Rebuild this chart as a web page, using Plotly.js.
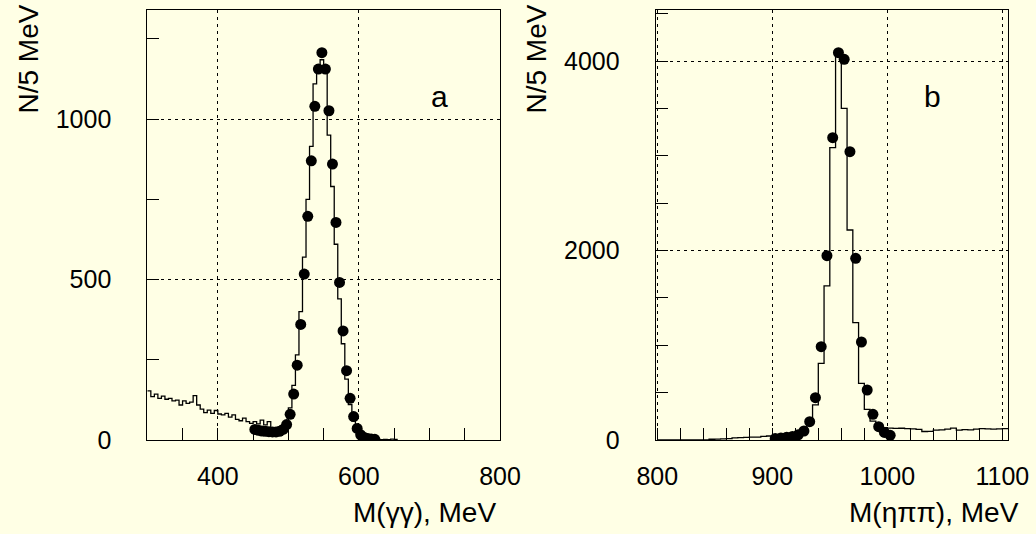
<!DOCTYPE html>
<html>
<head>
<meta charset="utf-8">
<script src="https://cdn.plot.ly/plotly-3.0.1.min.js"></script>
<style>html,body{margin:0;padding:0;background:#FFFFE5;}#chart{width:1036px;height:534px;}</style>
</head>
<body>
<div id="chart"></div>
<script>
// ---- Panel a: M(gamma gamma) ----
const histA_start = 300;      // first bin edge, MeV
const histA_width = 5;        // bin width, MeV
const histA_counts = [153,135,143,130,137,127,130,122,124,109,122,114,118,138,109,96,85,93,83,92,81,78,83,71,78,64,60,68,57,52,57,50,62,47,57,36,
  30,30,38,55,100,170,265,400,570,750,915,1110,1170,1185,1160,950,790,610,440,300,190,110,60,28,13,6,4,3,2,2,1,2,1,3,2];
const ptsA_mass = [452.5,457.5,462.5,467.5,472.5,477.5,482.5,487.5,492.5,497.5,502.5,507.5,512.5,517.5,522.5,527.5,532.5,537.5,542.5,547.5,
  552.5,557.5,562.5,567.5,572.5,577.5,582.5,587.5,592.5,597.5,602.5,607.5,612.5,617.5,622.5];
const ptsA_counts = [33,30,28,27,26,25,25,27,33,48,80,143,233,360,517,697,870,1040,1156,1207,1156,1026,860,678,491,340,216,130,73,36,16,8,5,3,2];

// ---- Panel b: M(eta pi pi) ----
const histB_start = 800;
const histB_width = 5;
const histB_counts = [0,0,0,0,0,0,0,0,2,
  8,10,12,15,22,25,28,30,30,38,42,
  45,50,60,70,90,120,180,370,810,1627,3088,4080,3503,2218,1239,599,324,200,140,130,
  125,122,124,120,118,112,90,92,105,108,115,125,105,110,108,115,120,118,115,118,120];
const ptsB_mass = [902.5,907.5,912.5,917.5,922.5,927.5,932.5,937.5,942.5,947.5,952.5,957.5,962.5,967.5,972.5,977.5,982.5,987.5,992.5,997.5,1002.5];
const ptsB_counts = [15,22,30,38,55,95,194,447,986,1947,3193,4091,4021,3046,1919,1035,528,271,141,80,50];

// tick labels
const xA_ticks = [400,600,800];
const yA_ticks = [0,500,1000];
const xB_ticks = [800,900,1000,1100];
const yB_ticks = [0,2000,4000];

function stepXY(start, width, counts){
  const x = [], y = [];
  counts.forEach((c,i)=>{ x.push(start + i*width); y.push(c); });
  x.push(start + counts.length*width); y.push(counts[counts.length-1]);
  return {x, y};
}
function range(a,b,s){ const r=[]; for(let v=a; v<=b+1e-9; v+=s) r.push(v); return r; }

const hA = stepXY(histA_start, histA_width, histA_counts);
const hB = stepXY(histB_start, histB_width, histB_counts);

const FONT = 'Liberation Sans, Arial, Helvetica, sans-serif';
const BG = '#FFFFE5';

const traces = [
  {x:hA.x, y:hA.y, xaxis:'x', yaxis:'y', mode:'lines', line:{shape:'hv', color:'#000', width:1.3}, hoverinfo:'skip'},
  {x:ptsA_mass, y:ptsA_counts, xaxis:'x', yaxis:'y', mode:'markers', marker:{color:'#000', size:11}},
  {x:hB.x, y:hB.y, xaxis:'x2', yaxis:'y2', mode:'lines', line:{shape:'hv', color:'#000', width:1.3}, hoverinfo:'skip'},
  {x:ptsB_mass, y:ptsB_counts, xaxis:'x2', yaxis:'y2', mode:'markers', marker:{color:'#000', size:11}}
];

const W = 1036, H = 534;
const px = v => v / W, py = v => 1 - v / H;

function axisCommon(){
  return {
    showline:true, mirror:true, linecolor:'#000', linewidth:1,
    ticks:'inside', ticklen:12, tickcolor:'#000', tickwidth:1,
    showgrid:true, gridcolor:'#000', gridwidth:1, griddash:'3px,4px',
    zeroline:false, tickfont:{family:FONT, size:25, color:'#000'},
    tickmode:'array'
  };
}

const layout = {
  width:W, height:H, showlegend:false,
  paper_bgcolor:BG, plot_bgcolor:BG,
  margin:{l:0, r:0, t:0, b:0},
  xaxis: Object.assign(axisCommon(), {domain:[px(147.3), px(500)], range:[300,800], anchor:'y',
    tickvals:xA_ticks, ticktext:xA_ticks.map(String), ticklabelstandoff:14,
    minor:{tickvals:range(350,750,50), ticks:'inside', ticklen:12, tickcolor:'#000', showgrid:false}}),
  yaxis: Object.assign(axisCommon(), {domain:[py(440), py(10)], range:[0,1340], anchor:'x',
    tickvals:yA_ticks, ticktext:yA_ticks.map(String), ticklabelstandoff:30,
    minor:{tickvals:[250,750,1250], ticks:'inside', ticklen:12, tickcolor:'#000', showgrid:false}}),
  xaxis2: Object.assign(axisCommon(), {domain:[px(655.7), px(1008.3)], range:[798.6,1105.2], anchor:'y2',
    tickvals:xB_ticks, ticktext:xB_ticks.map(String), ticklabelstandoff:14,
    minor:{tickvals:range(820,1080,20), ticks:'inside', ticklen:12, tickcolor:'#000', showgrid:false}}),
  yaxis2: Object.assign(axisCommon(), {domain:[py(440), py(10)], range:[0,4542], anchor:'x2',
    tickvals:yB_ticks, ticktext:yB_ticks.map(String), ticklabelstandoff:30,
    minor:{tickvals:[500,1000,1500,2500,3000,3500,4500], ticks:'inside', ticklen:12, tickcolor:'#000', showgrid:false}}),
  annotations:[
    {text:'N/5 MeV', xref:'paper', yref:'paper', x:px(28), y:py(3), xanchor:'center', yanchor:'top', textangle:-90, showarrow:false, font:{family:FONT, size:28, color:'#000'}},
    {text:'N/5 MeV', xref:'paper', yref:'paper', x:px(536), y:py(3), xanchor:'center', yanchor:'top', textangle:-90, showarrow:false, font:{family:FONT, size:28, color:'#000'}},
    {text:'M(γγ), MeV', xref:'paper', yref:'paper', x:px(498), y:py(512), xanchor:'right', yanchor:'middle', showarrow:false, font:{family:FONT, size:28, color:'#000'}},
    {text:'M(ηππ), MeV', xref:'paper', yref:'paper', x:px(1021), y:py(512), xanchor:'right', yanchor:'middle', showarrow:false, font:{family:FONT, size:28, color:'#000'}},
    {text:'a', xref:'paper', yref:'paper', x:px(439), y:py(96), xanchor:'center', yanchor:'middle', showarrow:false, font:{family:FONT, size:30, color:'#000'}},
    {text:'b', xref:'paper', yref:'paper', x:px(932), y:py(96), xanchor:'center', yanchor:'middle', showarrow:false, font:{family:FONT, size:30, color:'#000'}}
  ]
};

Plotly.newPlot('chart', traces, layout, {displayModeBar:false, staticPlot:true});
</script>
</body>
</html>
